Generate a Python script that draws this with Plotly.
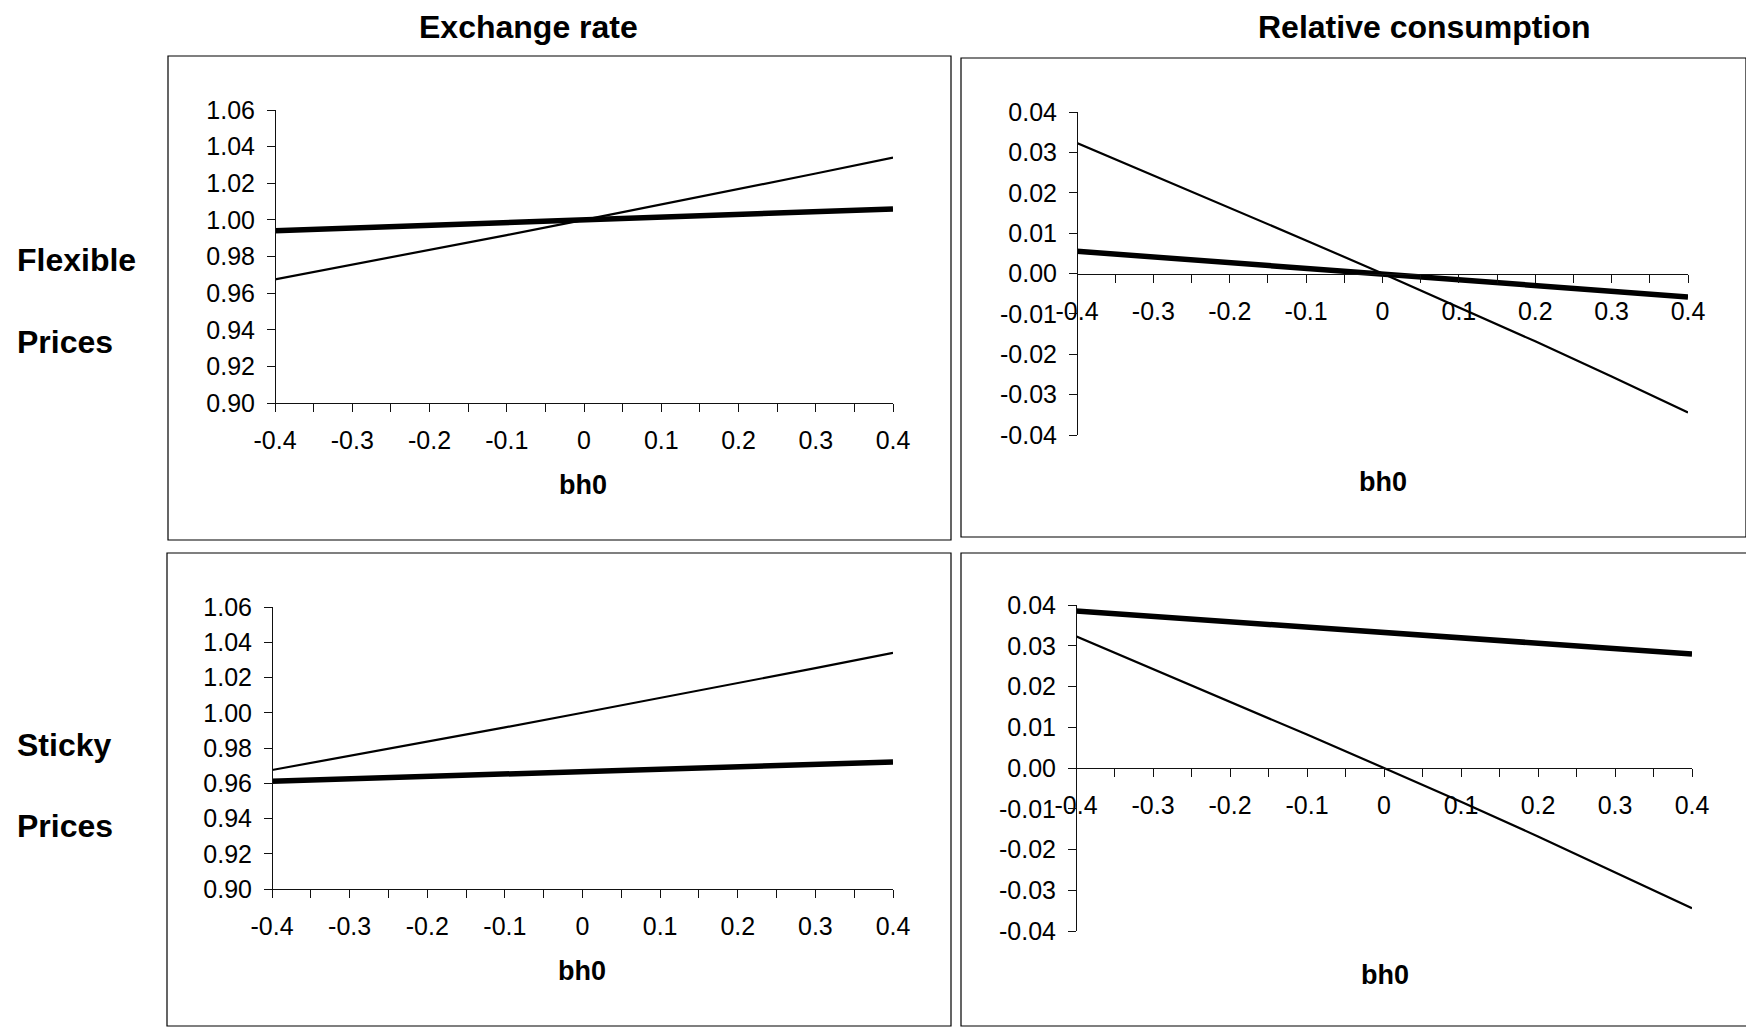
import plotly.graph_objects as go

# ---------------- data ----------------
bh0 = [-0.4, -0.3, -0.2, -0.1, 0.0, 0.1, 0.2, 0.3, 0.4]

flex_er_thin = [0.9675, 0.9755, 0.9835, 0.9917, 1.000, 1.0083, 1.0168, 1.0253, 1.034]
flex_er_thick = [0.994, 0.9955, 0.997, 0.9985, 1.000, 1.0015, 1.003, 1.0045, 1.006]
flex_rc_thin = [0.0323, 0.0243, 0.0163, 0.0082, 0.0, -0.0083, -0.0168, -0.0255, -0.0344]
flex_rc_thick = [0.0055, 0.0041, 0.0027, 0.0014, 0.0, -0.0014, -0.0029, -0.0043, -0.0058]

sticky_er_thin = [0.9675, 0.9755, 0.9835, 0.9917, 1.000, 1.0083, 1.0168, 1.0253, 1.034]
sticky_er_thick = [0.9612, 0.9626, 0.9640, 0.9655, 0.9670, 0.9682, 0.9695, 0.9708, 0.9720]
sticky_rc_thin = [0.0323, 0.0243, 0.0163, 0.0082, 0.0, -0.0083, -0.0168, -0.0255, -0.0344]
sticky_rc_thick = [0.0385, 0.0372, 0.0360, 0.0347, 0.0334, 0.0321, 0.0308, 0.0294, 0.0280]

x_tick_vals = [-0.4, -0.3, -0.2, -0.1, 0.0, 0.1, 0.2, 0.3, 0.4]
x_tick_labels = ["-0.4", "-0.3", "-0.2", "-0.1", "0", "0.1", "0.2", "0.3", "0.4"]
er_tick_vals = [0.90, 0.92, 0.94, 0.96, 0.98, 1.00, 1.02, 1.04, 1.06]
er_tick_labels = ["0.90", "0.92", "0.94", "0.96", "0.98", "1.00", "1.02", "1.04", "1.06"]
rc_tick_vals = [-0.04, -0.03, -0.02, -0.01, 0.0, 0.01, 0.02, 0.03, 0.04]
rc_tick_labels = ["-0.04", "-0.03", "-0.02", "-0.01", "0.00", "0.01", "0.02", "0.03", "0.04"]

col_titles = ["Exchange rate", "Relative consumption"]
row_titles = [["Flexible", "Prices"], ["Sticky", "Prices"]]
x_title = "bh0"

# ---------------- layout helpers ----------------
W, H = 1754, 1028
OFF = 8  # page body margin
FONT = "Liberation Sans, Arial, sans-serif"
AX = "#111111"
TICK_SIZE = 25


def fx(px):
    return (px - OFF) / W


def fy(py):
    return 1 - (py - OFF) / H


panels = [
    dict(px=(275, 893), py=(110, 403), kind="er", thin=flex_er_thin, thick=flex_er_thick,
         box=(168, 951, 56, 540), lab=(583, 485)),
    dict(px=(1077, 1688), py=(112, 435), kind="rc", thin=flex_rc_thin, thick=flex_rc_thick,
         box=(961, 1746, 58, 537), lab=(1383, 482)),
    dict(px=(272, 893), py=(607, 889), kind="er", thin=sticky_er_thin, thick=sticky_er_thick,
         box=(167, 951, 553, 1026), lab=(582, 971)),
    dict(px=(1076, 1692), py=(605, 931), kind="rc", thin=sticky_rc_thin, thick=sticky_rc_thick,
         box=(961, 1747, 553, 1026), lab=(1385, 975)),
]

fig = go.Figure()
layout = dict(
    template="none",
    width=W, height=H,
    margin=dict(l=0, r=0, t=0, b=0, pad=0, autoexpand=False),
    paper_bgcolor="white", plot_bgcolor="white",
    showlegend=False,
    font=dict(family=FONT, color="black", size=TICK_SIZE),
)
shapes = []
annotations = []

for i, p in enumerate(panels, start=1):
    xs = "" if i == 1 else str(i)
    xd = [fx(p["px"][0]), fx(p["px"][1])]
    yd = [fy(p["py"][1]), fy(p["py"][0])]
    fig.add_trace(go.Scatter(x=bh0, y=p["thin"], mode="lines",
                             line=dict(color="black", width=2.2),
                             xaxis="x" + xs, yaxis="y" + xs))
    fig.add_trace(go.Scatter(x=bh0, y=p["thick"], mode="lines",
                             line=dict(color="black", width=5.5),
                             xaxis="x" + xs, yaxis="y" + xs))
    if p["kind"] == "er":
        yr = [0.90, 1.06]
        ytv, ytt = er_tick_vals, er_tick_labels
        xpos = yd[0]
    else:
        yr = [-0.04, 0.04]
        ytv, ytt = rc_tick_vals, rc_tick_labels
        xpos = (yd[0] + yd[1]) / 2
    layout["xaxis" + xs] = dict(
        domain=xd, range=[-0.4, 0.4], anchor="free", position=xpos, automargin=False,
        showgrid=False, zeroline=False, showline=True, linecolor=AX, linewidth=1,
        tickmode="array", tickvals=x_tick_vals, ticktext=x_tick_labels,
        ticks="outside", ticklen=8, tickcolor=AX, tickwidth=1,
        ticklabelstandoff=7,
        minor=dict(dtick=0.05, tick0=0, ticks="outside", ticklen=8, tickcolor=AX, tickwidth=1,
                   showgrid=False),
        tickfont=dict(family=FONT, size=TICK_SIZE, color="black"),
    )
    layout["yaxis" + xs] = dict(
        domain=yd, range=yr, anchor="free", position=xd[0], automargin=False,
        showgrid=False, zeroline=False, showline=True, linecolor=AX, linewidth=1,
        tickmode="array", tickvals=ytv, ticktext=ytt,
        ticks="outside", ticklen=8, tickcolor=AX, tickwidth=1,
        ticklabelstandoff=7,
        tickfont=dict(family=FONT, size=TICK_SIZE, color="black"),
    )
    bx0, bx1, by0, by1 = p["box"]
    shapes.append(dict(type="rect", xref="paper", yref="paper",
                       x0=fx(bx0), x1=fx(bx1), y0=fy(by1), y1=fy(by0),
                       line=dict(color="black", width=1.2), fillcolor="rgba(0,0,0,0)"))
    annotations.append(dict(text="<b>" + x_title + "</b>", xref="paper", yref="paper",
                            x=fx(p["lab"][0]), y=fy(p["lab"][1]), showarrow=False,
                            xanchor="center", yanchor="middle",
                            font=dict(family=FONT, size=27, color="black")))

for t, cx in zip(col_titles, [528, 1424]):
    annotations.append(dict(text="<b>" + t + "</b>", xref="paper", yref="paper",
                            x=fx(cx), y=fy(27), showarrow=False,
                            xanchor="center", yanchor="middle", borderpad=0,
                            font=dict(family=FONT, size=32, color="black")))

for rows, ys in zip(row_titles, [(260, 342), (745, 826)]):
    for t, yy in zip(rows, ys):
        annotations.append(dict(text="<b>" + t + "</b>", xref="paper", yref="paper",
                                x=fx(15), y=fy(yy), showarrow=False,
                                xanchor="left", yanchor="middle",
                                font=dict(family=FONT, size=32, color="black")))

layout["shapes"] = shapes
layout["annotations"] = annotations
fig.update_layout(**layout)
fig.write_html("out.html")
